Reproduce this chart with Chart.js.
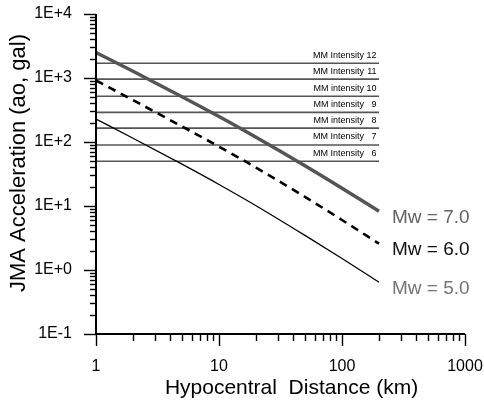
<!DOCTYPE html>
<html>
<head>
<meta charset="utf-8">
<title>JMA Acceleration vs Hypocentral Distance</title>
<script src="https://cdn.jsdelivr.net/npm/chart.js@4/dist/chart.umd.min.js"></script>
<style>
    html, body { margin: 0; padding: 0; background: #fff; }
    canvas { display: block; }
</style>
</head>
<body>
<canvas id="attenuation" width="484" height="402"></canvas>
<script>
// hypocentral distance (km) and acceleration (gal) for each magnitude
const distances = [1, 2, 5, 10, 20, 50, 100, 200];
const accMw7 = [2500, 1276, 510, 250, 119, 42.7, 19.0, 8.26];
const accMw6 = [915, 451, 175, 84.7, 39.8, 13.9, 6.04, 2.58];
const accMw5 = [229, 114.6, 45.0, 21.7, 10.1, 3.47, 1.51, 0.644];

// MM intensity thresholds (gal), drawn as horizontal levels
const intensityLevels = [50, 90, 165, 290, 520, 960, 1700];
const intensityNames = ['MM Intensity', 'MM Intensity', 'MM intensity', 'MM intensity', 'MM intensity', 'MM Intensity', 'MM Intensity'];
const intensityNumbers = ['6', '7', '8', '9', '10', '11', '12'];
const intensityEnd = 200;

const curveLabels = ['Mw = 7.0', 'Mw = 6.0', 'Mw = 5.0'];
const curveLabelColors = ['#626262', '#111111', '#737373'];

const FONT = '"Liberation Sans", Arial, Helvetica, sans-serif';
Chart.defaults.font.family = FONT;
Chart.defaults.color = '#000';

function isDecade(v) {
    const l = Math.log10(v);
    return Math.abs(l - Math.round(l)) < 1e-6;
}

function toPoints(xs, ys) {
    return xs.map((x, i) => ({x: x, y: ys[i]}));
}

const curveSets = [
    {data: toPoints(distances, accMw7), borderColor: '#555555', borderWidth: 3.5, order: 0},
    {data: toPoints(distances, accMw6), borderColor: '#000000', borderWidth: 2.6, borderDash: [8, 6], order: 0},
    {data: toPoints(distances, accMw5), borderColor: '#000000', borderWidth: 1.3, order: 0}
];

const levelSets = intensityLevels.map(v => ({
    data: [{x: 1, y: v}, {x: intensityEnd, y: v}],
    borderColor: '#555555',
    borderWidth: 1.6,
    order: 1
}));

// axis lines, log tick marks, titles and in-plot labels
const decorations = {
    id: 'decorations',
    afterDraw(chart) {
        const ctx = chart.ctx;
        const xs = chart.scales.x;
        const ys = chart.scales.y;
        const area = chart.chartArea;

        ctx.save();
        ctx.strokeStyle = '#000';
        ctx.lineCap = 'butt';

        // y ticks (outside, to the left)
        ctx.lineWidth = 1.4;
        for (let e = -1; e <= 4; e++) {
            for (let k = 1; k <= 9; k++) {
                const v = k * Math.pow(10, e);
                if (v > 10000.0001) break;
                const py = Math.round(ys.getPixelForValue(v)) + 0.5;
                const len = k === 1 ? 12 : 6;
                ctx.beginPath();
                ctx.moveTo(area.left - len, py);
                ctx.lineTo(area.left, py);
                ctx.stroke();
            }
        }
        // x ticks (outside, below)
        for (let e = 0; e <= 3; e++) {
            for (let k = 1; k <= 9; k++) {
                const v = k * Math.pow(10, e);
                if (v > 1000.0001) break;
                const px = Math.round(xs.getPixelForValue(v)) + 0.5;
                const len = k === 1 ? 12 : 7;
                ctx.beginPath();
                ctx.moveTo(px, area.bottom);
                ctx.lineTo(px, area.bottom + len);
                ctx.stroke();
            }
        }

        // axis lines
        ctx.lineWidth = 2;
        ctx.beginPath();
        ctx.moveTo(area.left, area.top);
        ctx.lineTo(area.left, area.bottom);
        ctx.lineTo(area.right, area.bottom);
        ctx.stroke();

        // intensity labels above each level
        const endPx = xs.getPixelForValue(intensityEnd);
        ctx.font = '9px ' + FONT;
        ctx.fillStyle = '#000';
        ctx.textBaseline = 'alphabetic';
        ctx.textAlign = 'right';
        intensityLevels.forEach((v, i) => {
            const py = ys.getPixelForValue(v) - 5.5;
            ctx.fillText(intensityNames[i], endPx - 15, py);
            ctx.fillText(intensityNumbers[i], endPx - 2.5, py);
        });

        // magnitude labels at the end of each curve
        ctx.font = '19px ' + FONT;
        ctx.textAlign = 'left';
        curveSets.forEach((ds, i) => {
            const last = ds.data[ds.data.length - 1];
            const px = xs.getPixelForValue(last.x) + 13;
            const py = ys.getPixelForValue(last.y) + 11.5;
            ctx.fillStyle = curveLabelColors[i];
            ctx.fillText(curveLabels[i], px, py);
        });

        // axis titles
        ctx.fillStyle = '#000';
        ctx.font = '21px ' + FONT;
        ctx.textAlign = 'center';
        ctx.fillText('Hypocentral  Distance (km)', (area.left + area.right) / 2 + 11, chart.height - 8);

        ctx.translate(25, (area.top + area.bottom) / 2 - 11);
        ctx.rotate(-Math.PI / 2);
        ctx.font = '22px ' + FONT;
        ctx.fillText('JMA Acceleration (ao, gal)', 0, 0);
        ctx.restore();
    }
};

new Chart(document.getElementById('attenuation'), {
    type: 'line',
    data: {
        datasets: curveSets.concat(levelSets).map(ds => Object.assign({
            fill: false,
            pointRadius: 0,
            cubicInterpolationMode: 'monotone'
        }, ds))
    },
    options: {
        responsive: false,
        animation: false,
        layout: {
            padding: {left: 0, top: 14, right: 19, bottom: 0}
        },
        plugins: {
            legend: {display: false},
            tooltip: {enabled: false}
        },
        scales: {
            x: {
                type: 'logarithmic',
                min: 1,
                max: 1000,
                grid: {display: false},
                border: {display: false},
                ticks: {
                    autoSkip: false,
                    maxRotation: 0,
                    padding: 15,
                    font: {size: 16},
                    color: '#000',
                    callback: (v) => isDecade(v) ? String(Math.round(v)) : ''
                },
                afterFit: (scale) => {
                    scale.height = 68;
                    scale.paddingLeft = 0;
                    scale.paddingRight = 0;
                }
            },
            y: {
                type: 'logarithmic',
                min: 0.1,
                max: 10000,
                grid: {display: false},
                border: {display: false},
                ticks: {
                    autoSkip: false,
                    padding: 16,
                    font: {size: 16},
                    color: '#000',
                    callback: (v) => {
                        if (!isDecade(v)) return '';
                        const e = Math.round(Math.log10(v));
                        return '1E' + (e < 0 ? '-' : '+') + Math.abs(e);
                    }
                },
                afterFit: (scale) => {
                    scale.width = 96;
                    scale.paddingTop = 0;
                    scale.paddingBottom = 0;
                }
            }
        }
    },
    plugins: [decorations]
});
</script>
</body>
</html>
